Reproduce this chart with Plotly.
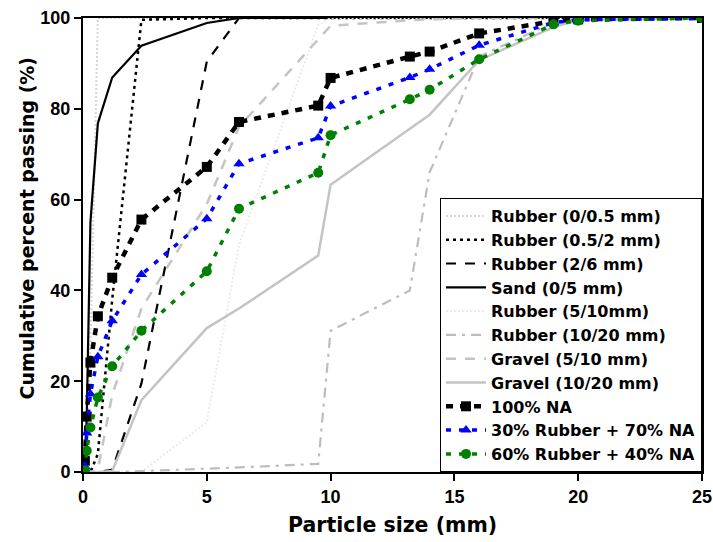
import plotly.graph_objects as go

# Sieve openings (mm)
sieve_mm = [0.075, 0.15, 0.3, 0.6, 1.18, 2.36, 5, 6.3, 9.5, 10, 13.2, 14, 16, 19, 20, 25]

# Cumulative percent passing for each material
rubber_0_05 = [0.5, 6, 28, 100, 100, 100, 100, 100, 100, 100, 100, 100, 100, 100, 100, 100]
rubber_05_2 = [0, 0, 0, 4, 38, 99.6, 100, 100, 100, 100, 100, 100, 100, 100, 100, 100]
rubber_2_6 = [0, 0, 0, 0, 0.5, 19.5, 90.4, 100, 100, 100, 100, 100, 100, 100, 100, 100]
sand_0_5 = [1.5, 12, 55, 76.8, 86.9, 93.9, 98.9, 100, 100, 100, 100, 100, 100, 100, 100, 100]
rubber_5_10 = [0, 0, 0, 0, 0, 0, 11, 50, 98.5, 100, 100, 100, 100, 100, 100, 100]
rubber_10_20 = [0, 0, 0, 0, 0, 0.2, 0.7, 1.0, 1.8, 31.1, 40, 66, 91.5, 99, 100, 100]
gravel_5_10 = [0, 0, 0, 0.5, 17, 36, 59, 76, 95.5, 98.3, 99.5, 99.7, 100, 100, 100, 100]
gravel_10_20 = [0, 0, 0, 0, 0.2, 15.8, 31.7, 36, 47.7, 63.3, 75.6, 78.7, 90.7, 98, 99.5, 100]
mix_100_na = [2.5, 12.2, 24.1, 34.3, 42.8, 55.6, 67.2, 77.1, 80.7, 86.8, 91.5, 92.6, 96.6, 99.3, 99.7, 100]
mix_30_rubber = [1.2, 8.6, 17.2, 25.4, 33.3, 43.5, 55.8, 67.9, 73.6, 80.6, 86.9, 88.7, 94.0, 99.0, 99.6, 100]
mix_60_rubber = [0.3, 4.7, 9.8, 16.4, 23.3, 31.1, 44.2, 58.0, 65.9, 74.2, 82.1, 84.2, 90.9, 98.6, 99.4, 100]

x_ticks = [0, 5, 10, 15, 20, 25]
y_ticks = [0, 20, 40, 60, 80, 100]

materials = [
    ("Rubber (0/0.5 mm)", rubber_0_05, dict(color="#d6d6d6", width=2, dash="2px,2px")),
    ("Rubber (0.5/2 mm)", rubber_05_2, dict(color="black", width=2.5, dash="3px,4px")),
    ("Rubber (2/6 mm)", rubber_2_6, dict(color="black", width=2.2, dash="10px,9px")),
    ("Sand (0/5 mm)", sand_0_5, dict(color="black", width=2.2)),
    ("Rubber (5/10mm)", rubber_5_10, dict(color="#ebebeb", width=2, dash="2px,2px")),
    ("Rubber (10/20 mm)", rubber_10_20, dict(color="#bdbdbd", width=2.2, dash="10px,6px,3px,6px")),
    ("Gravel (5/10 mm)", gravel_5_10, dict(color="#c4c4c4", width=2.5, dash="10px,9px")),
    ("Gravel (10/20 mm)", gravel_10_20, dict(color="#c4c4c4", width=2.5)),
]

mixes = [
    ("100% NA", mix_100_na, "black", "square", "7px,7px", 4.5),
    ("30% Rubber + 70% NA", mix_30_rubber, "#0000ff", "triangle-up", "5px,8px", 3.5),
    ("60% Rubber + 40% NA", mix_60_rubber, "#008000", "circle", "5px,8px", 3.5),
]

fig = go.Figure()

for name, vals, line in materials:
    fig.add_trace(go.Scatter(x=sieve_mm, y=vals, name=name, mode="lines", line=line))

for name, vals, color, symbol, dash, width in mixes:
    fig.add_trace(go.Scatter(
        x=sieve_mm, y=vals, name=name, mode="lines+markers",
        line=dict(color=color, width=width, dash=dash),
        marker=dict(symbol=symbol, size=10, color=color),
    ))

tick_font = dict(family="Liberation Sans, Arial, sans-serif", size=18, color="black", weight="bold")
xtitle_font = dict(family="DejaVu Sans, sans-serif", size=20.5, color="black", weight="bold")
ytitle_font = dict(family="DejaVu Sans, sans-serif", size=19, color="black", weight="bold")

axis_common = dict(
    showline=True, linecolor="black", linewidth=2, mirror=True,
    ticks="outside", ticklen=7, tickwidth=1.5, tickcolor="black",
    showgrid=False, zeroline=False, tickfont=tick_font, automargin=False,
)

fig.update_xaxes(range=[0, 25], tickvals=x_ticks, **axis_common)
fig.update_yaxes(range=[0, 100], tickvals=y_ticks, **axis_common)

fig.update_layout(
    width=713, height=542,
    margin=dict(l=83, r=11, t=18, b=70),
    plot_bgcolor="white", paper_bgcolor="white",
    showlegend=True,
    legend=dict(
        x=1, y=0, xanchor="right", yanchor="bottom",
        bgcolor="white", bordercolor="black", borderwidth=1,
        font=dict(family="DejaVu Sans, sans-serif", size=16, color="black", weight="bold"),
        itemwidth=40, tracegroupgap=0,
    ),
    annotations=[
        dict(text="Particle size (mm)", xref="paper", yref="paper", x=0.5, y=-0.116,
             xanchor="center", yanchor="middle", showarrow=False, font=xtitle_font),
        dict(text="Cumulative percent passing (%)", xref="paper", yref="paper", x=-0.09, y=0.537,
             xanchor="center", yanchor="middle", showarrow=False, textangle=-90, font=ytitle_font),
    ],
)

fig.write_html("out.html")
